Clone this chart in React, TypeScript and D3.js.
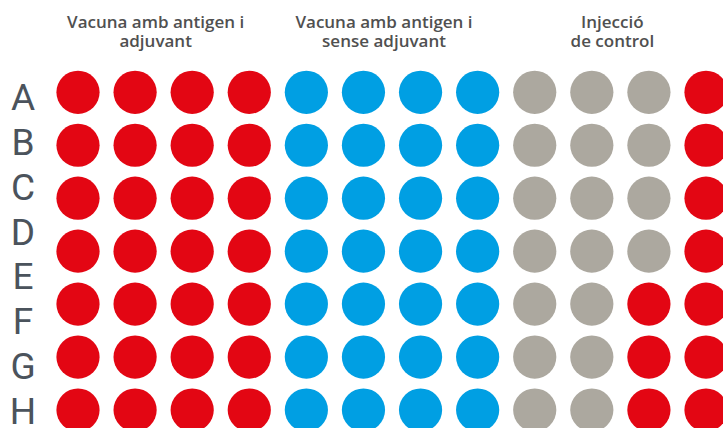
import React, { useEffect, useRef } from "react";
import * as d3 from "d3";

// row letters down the left side (the plate is cropped, 7 well rows visible)
const rowLabels = ["A", "B", "C", "D", "E", "F", "G", "H"];

// group headers, one entry per line
const headers = [
  ["Vacuna amb antigen i", "adjuvant"],
  ["Vacuna amb antigen i", "sense adjuvant"],
  ["Injecció", "de control"],
];

// well colour category per row: a = adjuvant (red), s = sense adjuvant (blue), c = control (grey)
const wellRows = [
  ["a", "a", "a", "a", "s", "s", "s", "s", "c", "c", "c", "a"],
  ["a", "a", "a", "a", "s", "s", "s", "s", "c", "c", "c", "a"],
  ["a", "a", "a", "a", "s", "s", "s", "s", "c", "c", "c", "a"],
  ["a", "a", "a", "a", "s", "s", "s", "s", "c", "c", "c", "a"],
  ["a", "a", "a", "a", "s", "s", "s", "s", "c", "c", "a", "a"],
  ["a", "a", "a", "a", "s", "s", "s", "s", "c", "c", "a", "a"],
  ["a", "a", "a", "a", "s", "s", "s", "s", "c", "c", "a", "a"],
];

const colors = { a: "#e30613", s: "#009fe3", c: "#aca89f" };

export default function App() {
  const ref = useRef<SVGSVGElement>(null);

  useEffect(() => {
    const width = 723;
    const height = 428;
    const svg = d3.select(ref.current).attr("width", width).attr("height", height);
    svg.selectAll("*").remove();

    const nCols = wellRows[0].length;
    const x = d3.scaleLinear().domain([0, nCols - 1]).range([78, 706]);
    const y = d3.scaleLinear().domain([0, wellRows.length - 1]).range([92.3, 410]);
    const yLabel = d3.scaleLinear().domain([0, rowLabels.length - 1]).range([110, 424]);

    const cells = wellRows.flatMap((row, r) => row.map((k, c) => ({ r, c, k })));

    svg.selectAll("circle.well")
      .data(cells)
      .enter()
      .append("circle")
      .attr("class", "well")
      .attr("cx", d => x(d.c))
      .attr("cy", d => y(d.r))
      .attr("r", 21.6)
      .attr("fill", d => colors[d.k as keyof typeof colors]);

    svg.selectAll("text.row")
      .data(rowLabels)
      .enter()
      .append("text")
      .attr("class", "row")
      .attr("x", 23)
      .attr("y", (_, i) => yLabel(i))
      .attr("text-anchor", "middle")
      .style("font-family", "Roboto, sans-serif")
      .style("font-size", "37px")
      .attr("fill", "#4b535c")
      .text(d => d);

    // header centred a bit left of its 4-column group, as in the source
    const groupCenter = (g: number) => (x(g * 4) + x(g * 4 + 3)) / 2 - 8;
    headers.forEach((lines, g) => {
      const t = svg.append("text")
        .attr("text-anchor", "middle")
        .style("font-family", "'Open Sans', sans-serif")
        .style("font-size", "17px")
        .style("font-weight", 600)
        .attr("fill", "#505050");
      lines.forEach((line, i) => {
        t.append("tspan")
          .attr("x", groupCenter(g))
          .attr("y", 27.7 + i * 19)
          .text(line);
      });
    });
  }, []);

  return (
    <svg ref={ref} style={{ position: "absolute", left: 0, top: 0, background: "#fff" }}></svg>
  );
}
